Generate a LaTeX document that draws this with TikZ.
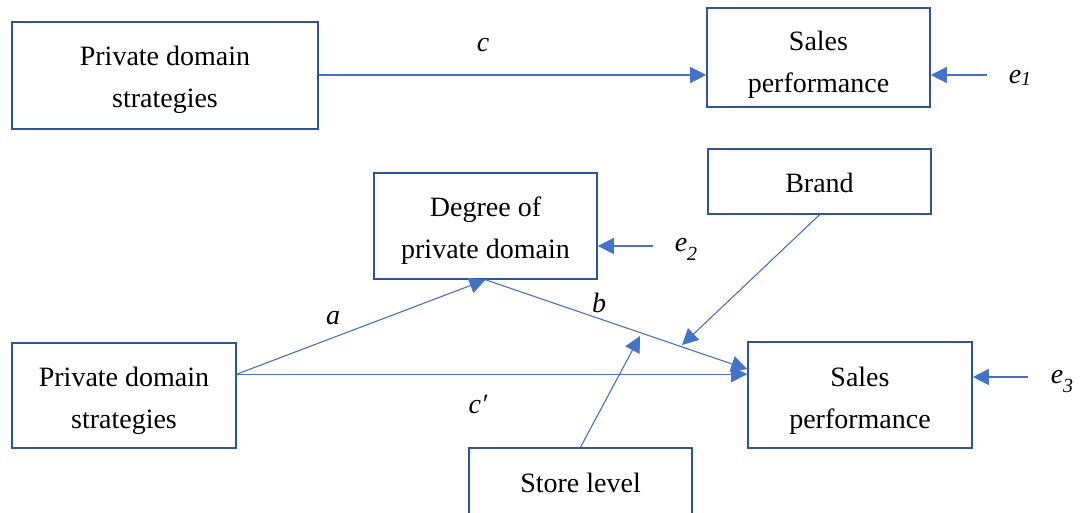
\documentclass[tikz,border=0pt]{standalone}
\usepackage{fontspec}
\setmainfont{Liberation Serif}
\usetikzlibrary{arrows.meta,calc}
\definecolor{boxblue}{HTML}{2F5597}
\definecolor{arrblue}{HTML}{4472C4}
\newcommand\pushdn[1]{\rule{0pt}{#1}}
\begin{document}
\begin{tikzpicture}[x=0.5pt,y=-0.5pt,
  box/.style={draw=boxblue,line width=0.8pt,fill=white,align=center,inner sep=0pt,
    font=\fontsize{14}{21}\selectfont},
  conn/.style={draw=arrblue,line width=0.55pt,-{Triangle[length=8pt,width=8pt]}},
  lab/.style={font=\fontsize{14}{17}\selectfont\itshape,inner sep=0pt}]
\clip (0,0) rectangle (1080,513);
\fill[white] (0,0) rectangle (1080,513);
% nodes
\node[box,minimum width=153pt,minimum height=53.5pt] (p1) at (165,75.5) {\pushdn{14.5pt}Private domain\\strategies};
\node[box,minimum width=111.5pt,minimum height=49.5pt] (s1) at (818.5,57.5) {\pushdn{16.5pt}Sales\\performance};
\node[box,minimum width=111.5pt,minimum height=32.5pt] (br) at (819.5,181.5) {\pushdn{11.5pt}Brand};
\node[box,minimum width=111.5pt,minimum height=53pt] (dg) at (485.5,226) {\pushdn{14.5pt}Degree of\\private domain};
\node[box,minimum width=112pt,minimum height=52.5pt] (p2) at (124,395.5) {\pushdn{15pt}Private domain\\strategies};
\node[box,minimum width=112pt,minimum height=53pt] (s2) at (860,395) {\pushdn{15.5pt}Sales\\performance};
\node[box,minimum width=111.5pt,minimum height=36pt] (st) at (580.5,484) {\raisebox{1pt}{Store level}};
% free ends
\coordinate (e1a) at (987,75);
\coordinate (e2a) at (653,246);
\coordinate (e3a) at (1028,377);
\coordinate (brt) at (682,345);
\coordinate (stt) at (640,336);
\coordinate (p1o) at (p1.east |- e1a);
\coordinate (p2o) at ($(p2.north east)!0.3!(p2.south east)$);
\coordinate (s2b) at ($(s2.north west)!0.26!(s2.south west)$);
% connectors
\draw[conn] (p1o) -- (p1o -| s1.west);
\draw[conn] (e1a) -- (e1a -| s1.east);
\draw[conn] (e2a) -- (e2a -| dg.east);
\draw[conn] (e3a) -- (e3a -| s2.east);
\draw[conn] (p2o) -- (dg.south);
\draw[conn] (dg.south) -- (s2b);
\draw[conn] (p2o) -- (p2o -| s2.west);
\draw[conn] (br.south) -- (brt);
\draw[conn] (st.north) -- (stt);
% labels
\node[lab] (lc) at (483,45) {c};
\node[lab] (la) at (333,318) {a};
\node[lab] (lb) at (599,303) {b};
\node[lab] (lcp) at (478,404) {c′};
\node[lab] (le1) at (1020,78) {e\raisebox{-0.15ex}{\fontsize{10}{12}\selectfont 1}};
\node[lab] (le2) at (686,249) {e\raisebox{-0.7ex}{\fontsize{10}{12}\selectfont 2}};
\node[lab] (le3) at (1062,381) {e\raisebox{-0.7ex}{\fontsize{10}{12}\selectfont 3}};
\end{tikzpicture}
\end{document}
